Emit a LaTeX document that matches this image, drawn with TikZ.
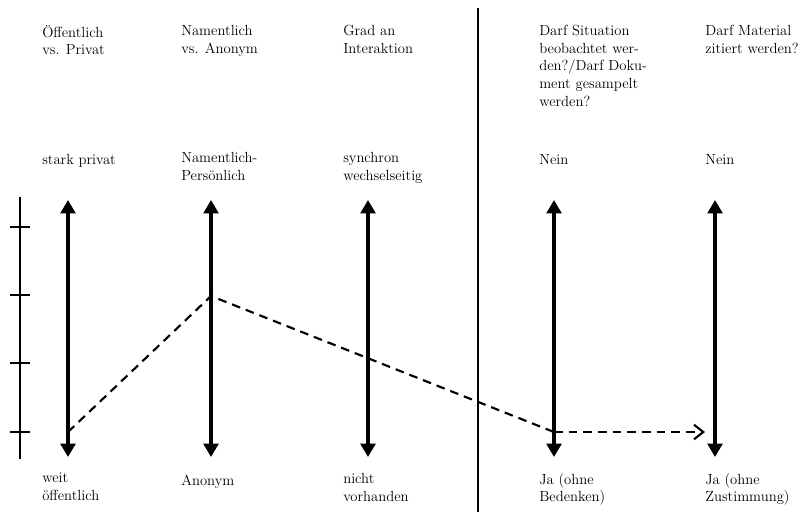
\documentclass[tikz,border=0pt]{standalone}
\usepackage{tikz}
\usetikzlibrary{arrows.meta, positioning}
\tikzset{
  lbl/.style={anchor=north west, align=left, inner sep=0pt,
    font=\fontsize{11}{13.2}\selectfont, execute at begin node=\strut},
  axisarrow/.style={{Triangle[length=10pt,width=11pt]}-{Triangle[length=10pt,width=11pt]},
    line width=3.6pt},
  profile/.style={dash pattern=on 6.5pt off 4.5pt, line width=1.6pt},
  scaleline/.style={line width=1.1pt},
  divider/.style={line width=1pt}
}

\begin{document}
\begin{tikzpicture}[x=0.75pt, y=-0.75pt]
  \useasboundingbox (0,0) rectangle (805,512);

  % Headers
  \node[lbl] (hdrpriv) at (42,25) {Öffentlich\\vs. Privat};
  \node[lbl] (hdrname) at (181,25) {Namentlich\\vs. Anonym};
  \node[lbl] (hdrint)  at (343,25) {Grad an\\Interaktion};
  \node[lbl] (hdrobs)  at (539,25) {Darf Situation\\beobachtet wer-\\den?/Darf Doku-\\ment gesampelt\\werden?};
  \node[lbl] (hdrcite) at (705,25) {Darf Material\\zitiert werden?};

  % Upper ends
  \node[lbl] (toppriv) at (42,152) {stark privat};
  \node[lbl] (topname) at (181,152) {Namentlich-\\Persönlich};
  \node[lbl] (topint)  at (343,152) {synchron\\wechselseitig};
  \node[lbl] (topobs)  at (539,152) {Nein};
  \node[lbl] (topcite) at (705,152) {Nein};

  % Lower ends
  \node[lbl] (botpriv) at (42,473) {weit\\öffentlich};
  \node[lbl] (botname) at (181,473) {Anonym};
  \node[lbl] (botint)  at (343,473) {nicht\\vorhanden};
  \node[lbl] (botobs)  at (539,473) {Ja (ohne\\Bedenken)};
  \node[lbl] (botcite) at (705,473) {Ja (ohne\\Zustimmung)};

  % Axes
  \foreach \name/\x in {priv/68, name/211, int/368, obs/554, cite/715} {
    \coordinate (up\name) at (\x,200);
    \coordinate (lo\name) at (\x,457);
    \draw[axisarrow] (lo\name) -- (up\name);
  }

  % Left scale
  \coordinate (scaletop) at (20,197);
  \coordinate (scalebot) at (20,459);
  \draw[scaleline] (scaletop) -- (scalebot);
  \foreach \y in {227, 295, 363, 432}
    \draw[scaleline] (10,\y) -- (30,\y);

  % Divider
  \coordinate (divtop) at (478,8);
  \coordinate (divbot) at (478,512);
  \draw[divider] (divtop) -- (divbot);

  % Profile
  \coordinate (ppriv) at (68,432);
  \coordinate (pname) at (211,296);
  \coordinate (pobs)  at (554,432);
  \coordinate (pcite) at (705,432);
  \draw[profile] (ppriv) -- (pname) -- (pobs);
  \draw[profile, -{Straight Barb[length=7pt,width=11pt]}] (pobs) -- (pcite);
\end{tikzpicture}
\end{document}
